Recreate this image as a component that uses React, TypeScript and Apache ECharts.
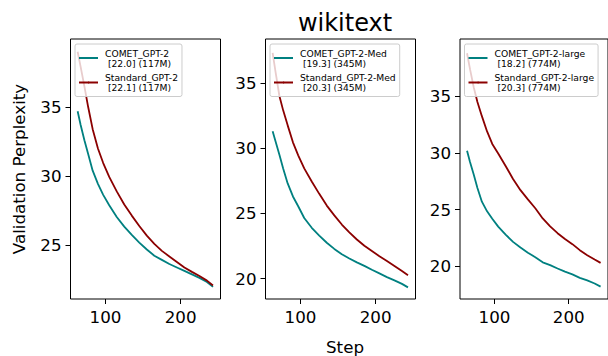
import { useEffect, useRef } from 'react';
import * as echarts from 'echarts';

const STEPS = [63, 67, 72, 77, 83, 90, 97, 105, 115, 125, 135, 145, 155, 165, 175, 185, 195, 205, 215, 225, 235, 243];

const comet117M = [34.7, 33.7, 32.6, 31.6, 30.4, 29.45, 28.65, 27.9, 27.05, 26.35, 25.75, 25.2, 24.7, 24.25, 23.95, 23.65, 23.4, 23.15, 22.9, 22.65, 22.35, 22.0];
const standard117M = [39.0, 37.9, 36.5, 35.0, 33.4, 32.0, 30.95, 29.95, 28.9, 27.95, 27.15, 26.4, 25.7, 25.1, 24.6, 24.2, 23.8, 23.4, 23.08, 22.78, 22.45, 22.1];
const comet345M = [31.3, 30.5, 29.5, 28.45, 27.3, 26.3, 25.55, 24.65, 23.9, 23.3, 22.75, 22.28, 21.87, 21.55, 21.25, 20.98, 20.68, 20.4, 20.12, 19.87, 19.6, 19.33];
const standard345M = [37.3, 35.8, 34.0, 32.9, 31.75, 30.45, 29.45, 28.45, 27.45, 26.5, 25.6, 24.85, 24.15, 23.55, 23.0, 22.52, 22.12, 21.72, 21.35, 20.97, 20.58, 20.26];
const comet774M = [30.2, 29.2, 28.1, 26.9, 25.7, 24.85, 24.2, 23.5, 22.8, 22.15, 21.65, 21.2, 20.8, 20.35, 20.1, 19.8, 19.52, 19.28, 18.98, 18.75, 18.48, 18.2];
const standard774M = [38.8, 37.4, 35.8, 34.5, 33.25, 31.9, 30.8, 29.95, 28.85, 27.7, 26.72, 25.9, 25.12, 24.22, 23.52, 22.92, 22.4, 21.95, 21.42, 20.98, 20.6, 20.3];

const COMET_NAMES = ['COMET_GPT-2', 'COMET_GPT-2-Med', 'COMET_GPT-2-large'];
const STANDARD_NAMES = ['Standard_GPT-2', 'Standard_GPT-2-Med', 'Standard_GPT-2-large'];
const COMET_FINAL = ['22.0', '19.3', '18.2'];
const STANDARD_FINAL = ['22.1', '20.3', '20.3'];
const MODEL_SIZES = ['117M', '345M', '774M'];

const X_TICKS = [100, 200];
const Y_TICKS = [[25, 30, 35], [20, 25, 30, 35], [20, 25, 30, 35]];
const Y_RANGES = [[21.12, 39.92], [18.44, 38.37], [17.11, 40.06]];
const X_RANGE = [53.5, 253];

const TITLE = 'wikitext';
const X_LABEL = 'Step';
const Y_LABEL = 'Validation Perplexity';

const COMET_SERIES = [comet117M, comet345M, comet774M];
const STANDARD_SERIES = [standard117M, standard345M, standard774M];

const FONT = '"DejaVu Sans", sans-serif';

export default function App() {
  const ref = useRef<HTMLDivElement>(null);
  useEffect(() => {
    document.body.style.margin = '0';
    const chart = echarts.init(ref.current!, null, { renderer: 'svg' });
    const gridLefts = [70.5, 265.5, 460];
    const pairs = (vals: number[]) => STEPS.map((s, i) => [s, vals[i]]);
    const labelMap: Record<string, string> = {};
    for (let i = 0; i < 3; i++) {
      labelMap[COMET_NAMES[i]] = `${COMET_NAMES[i]}\n\u00a0[${COMET_FINAL[i]}] (${MODEL_SIZES[i]})`;
      labelMap[STANDARD_NAMES[i]] = `${STANDARD_NAMES[i]}\n\u00a0[${STANDARD_FINAL[i]}] (${MODEL_SIZES[i]})`;
    }
    const grids = gridLefts.map((l) => ({
      left: l, top: 39, width: 150, height: 260,
      show: true, borderColor: '#000', borderWidth: 1, backgroundColor: 'transparent',
    }));
    const xAxes = gridLefts.map((_, i) => ({
      type: 'value', gridIndex: i, min: X_RANGE[0], max: X_RANGE[1],
      axisLine: { show: false },
      splitLine: { show: false },
      axisTick: { show: true, length: 5, customValues: X_TICKS, lineStyle: { color: '#000', width: 1 } },
      axisLabel: { customValues: X_TICKS, color: '#000', fontSize: 16.7, fontFamily: FONT, margin: 9 },
    }));
    const yAxes = gridLefts.map((_, i) => ({
      type: 'value', gridIndex: i, min: Y_RANGES[i][0], max: Y_RANGES[i][1],
      axisLine: { show: false },
      splitLine: { show: false },
      axisTick: { show: true, length: 5, customValues: Y_TICKS[i], lineStyle: { color: '#000', width: 1 } },
      axisLabel: { customValues: Y_TICKS[i], color: '#000', fontSize: 16.7, fontFamily: FONT, margin: 9 },
    }));
    const series: any[] = [];
    for (let i = 0; i < 3; i++) {
      series.push({
        type: 'line', name: COMET_NAMES[i], xAxisIndex: i, yAxisIndex: i,
        data: pairs(COMET_SERIES[i]), symbol: 'none', showSymbol: false,
        lineStyle: { color: '#008080', width: 1.8 }, itemStyle: { color: '#008080' },
      });
      series.push({
        type: 'line', name: STANDARD_NAMES[i], xAxisIndex: i, yAxisIndex: i,
        data: pairs(STANDARD_SERIES[i]), symbol: 'none', showSymbol: false,
        lineStyle: { color: '#8b0000', width: 1.8 }, itemStyle: { color: '#8b0000' },
      });
    }
    const legends = gridLefts.map((l, i) => ({
      data: [COMET_NAMES[i], STANDARD_NAMES[i]],
      orient: 'vertical', left: l + 4.5, top: 44,
      itemWidth: 19, itemHeight: 2, itemGap: 4.5,
      padding: [4, 4, 4, 3],
      selectedMode: false,
      backgroundColor: 'rgba(255,255,255,0.8)',
      borderColor: '#cccccc', borderWidth: 1, borderRadius: 2,
      formatter: (name: string) => labelMap[name],
      textStyle: { color: '#000', fontSize: 9.2, lineHeight: 10, fontFamily: FONT, padding: [0, 0, 0, 2] },
    }));
    chart.setOption({
      animation: false,
      backgroundColor: '#fff',
      grid: grids,
      xAxis: xAxes,
      yAxis: yAxes,
      legend: legends,
      series,
      graphic: [
        { type: 'text', x: 345, y: 23, style: { text: TITLE, font: `24px ${FONT}`, fill: '#000', textAlign: 'center', textVerticalAlign: 'middle' } },
        { type: 'text', x: 345, y: 347, style: { text: X_LABEL, font: `16.7px ${FONT}`, fill: '#000', textAlign: 'center', textVerticalAlign: 'middle' } },
        { type: 'text', x: 19, y: 169, rotation: Math.PI / 2, style: { text: Y_LABEL, font: `16.7px ${FONT}`, fill: '#000', textAlign: 'center', textVerticalAlign: 'middle' } },
      ],
    });
    return () => chart.dispose();
  }, []);
  return <div ref={ref} style={{ width: 608, height: 356 }} />;
}
